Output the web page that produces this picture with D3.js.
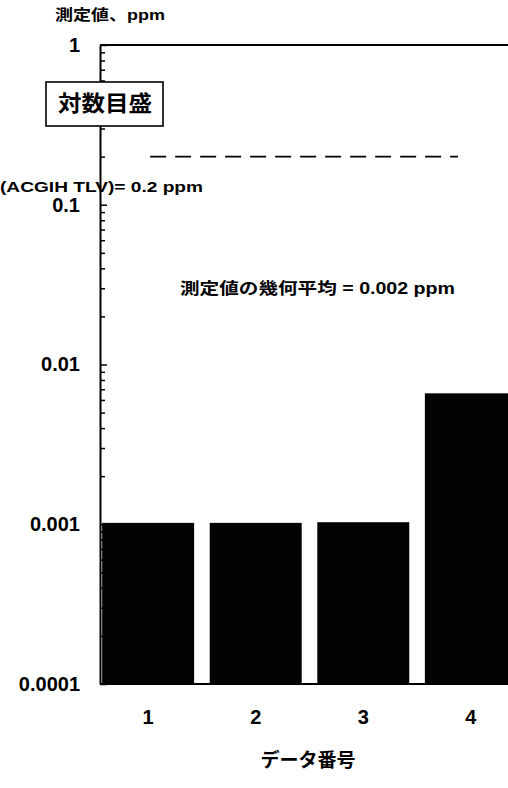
<!DOCTYPE html>
<html>
<head>
<meta charset="utf-8">
<script src="https://cdn.jsdelivr.net/npm/d3@7"></script>
<style>
  body { margin: 0; background: #fff; }
  text { font-family: "Liberation Sans", "Noto Sans CJK JP", sans-serif; font-weight: bold; fill: #000; }
</style>
</head>
<body>
<div id="chart"></div>
<script>
// データ
const dataNo = ['1', '2', '3', '4']
const values = [0.00102, 0.00102, 0.00103, 0.0066]
const majorTicks = [1, 0.1, 0.01, 0.001, 0.0001]
const majorLabels = ['1', '0.1', '0.01', '0.001', '0.0001']
const tlv = 0.2
const tlvLabel = '(ACGIH TLV)= 0.2 ppm'
const meanLabel = '測定値の幾何平均 = 0.002 ppm'

const width = 508, height = 788
const mLeft = 100, mTop = 45, mBottom = 684

const svg = d3.select('#chart').append('svg')
  .attr('width', width)
  .attr('height', height)

const y = d3.scaleLog().domain([0.0001, 1]).range([mBottom, mTop])
// plot runs past the right edge of the page (cut off like the scan)
const x = d3.scaleBand().domain(dataNo).range([mLeft, 519])
  .paddingInner(0.145).paddingOuter(0.02)

// minor ticks 2..9 per decade
const minorTicks = []
for (let e = -4; e < 0; e++) {
  for (let m = 2; m <= 9; m++) minorTicks.push(m * Math.pow(10, e))
}

// bars
svg.append('g').selectAll('rect')
  .data(values)
  .enter().append('rect')
  .attr('x', (d, i) => x(dataNo[i]))
  .attr('y', d => y(d))
  .attr('width', x.bandwidth())
  .attr('height', d => mBottom - y(d))
  .attr('fill', '#030303')

// frame: top + bottom lines
svg.append('line')
  .attr('x1', mLeft).attr('x2', width).attr('y1', mTop).attr('y2', mTop)
  .attr('stroke', '#000').attr('stroke-width', 2)
svg.append('line')
  .attr('x1', mLeft).attr('x2', width).attr('y1', mBottom).attr('y2', mBottom)
  .attr('stroke', '#000').attr('stroke-width', 2)

// y axis, ticks pointing inward
const yMinor = svg.append('g')
  .attr('transform', `translate(${mLeft},0)`)
  .call(d3.axisLeft(y).tickValues(minorTicks).tickSize(-5).tickFormat(''))
yMinor.select('.domain').remove()
yMinor.selectAll('line').attr('stroke-width', 1.5)

const yAxis = svg.append('g')
  .attr('transform', `translate(${mLeft},0)`)
  .call(d3.axisLeft(y).tickValues(majorTicks).tickSizeInner(-7).tickSizeOuter(0)
    .tickPadding(20).tickFormat((d, i) => majorLabels[i]))
yAxis.select('.domain').attr('stroke-width', 2)
yAxis.selectAll('line').attr('stroke-width', 1.5)
yAxis.selectAll('text')
  .attr('font-size', 20)
  .style('font-family', '"Liberation Sans", sans-serif')
  .style('font-weight', 'bold')

// x axis labels
const xAxis = svg.append('g')
  .attr('transform', `translate(0,${mBottom})`)
  .call(d3.axisBottom(x).tickSize(0).tickPadding(26))
xAxis.select('.domain').remove()
xAxis.selectAll('text')
  .attr('font-size', 20)
  .style('font-family', '"Liberation Sans", sans-serif')
  .style('font-weight', 'bold')

// 許容濃度 dashed line
svg.append('line')
  .attr('x1', x('1') + x.bandwidth() / 2 + 2)
  .attr('x2', x('4') + x.bandwidth() * 0.36)
  .attr('y1', y(tlv)).attr('y2', y(tlv))
  .attr('stroke', '#000')
  .attr('stroke-width', 1.6)
  .attr('stroke-dasharray', '16 9')

svg.append('text')
  .attr('x', 0).attr('y', y(tlv) + 35)
  .attr('font-size', 14)
  .attr('textLength', 203).attr('lengthAdjust', 'spacingAndGlyphs')
  .text(tlvLabel)

// 対数目盛 box
svg.append('rect')
  .attr('x', 46).attr('y', 82).attr('width', 117).attr('height', 44)
  .attr('fill', '#fff').attr('stroke', '#000').attr('stroke-width', 1.6)
svg.append('text')
  .attr('x', 58).attr('y', 111)
  .attr('font-size', 22)
  .attr('textLength', 94).attr('lengthAdjust', 'spacingAndGlyphs')
  .text('対数目盛')

// titles
svg.append('text')
  .attr('x', 55).attr('y', 20)
  .attr('font-size', 15)
  .attr('textLength', 110).attr('lengthAdjust', 'spacingAndGlyphs')
  .text('測定値、ppm')

svg.append('text')
  .attr('x', 180).attr('y', 294)
  .attr('font-size', 16)
  .attr('textLength', 275).attr('lengthAdjust', 'spacingAndGlyphs')
  .text(meanLabel)

svg.append('text')
  .attr('x', 308).attr('y', 767)
  .attr('text-anchor', 'middle')
  .attr('font-size', 19)
  .text('データ番号')
</script>
</body>
</html>
